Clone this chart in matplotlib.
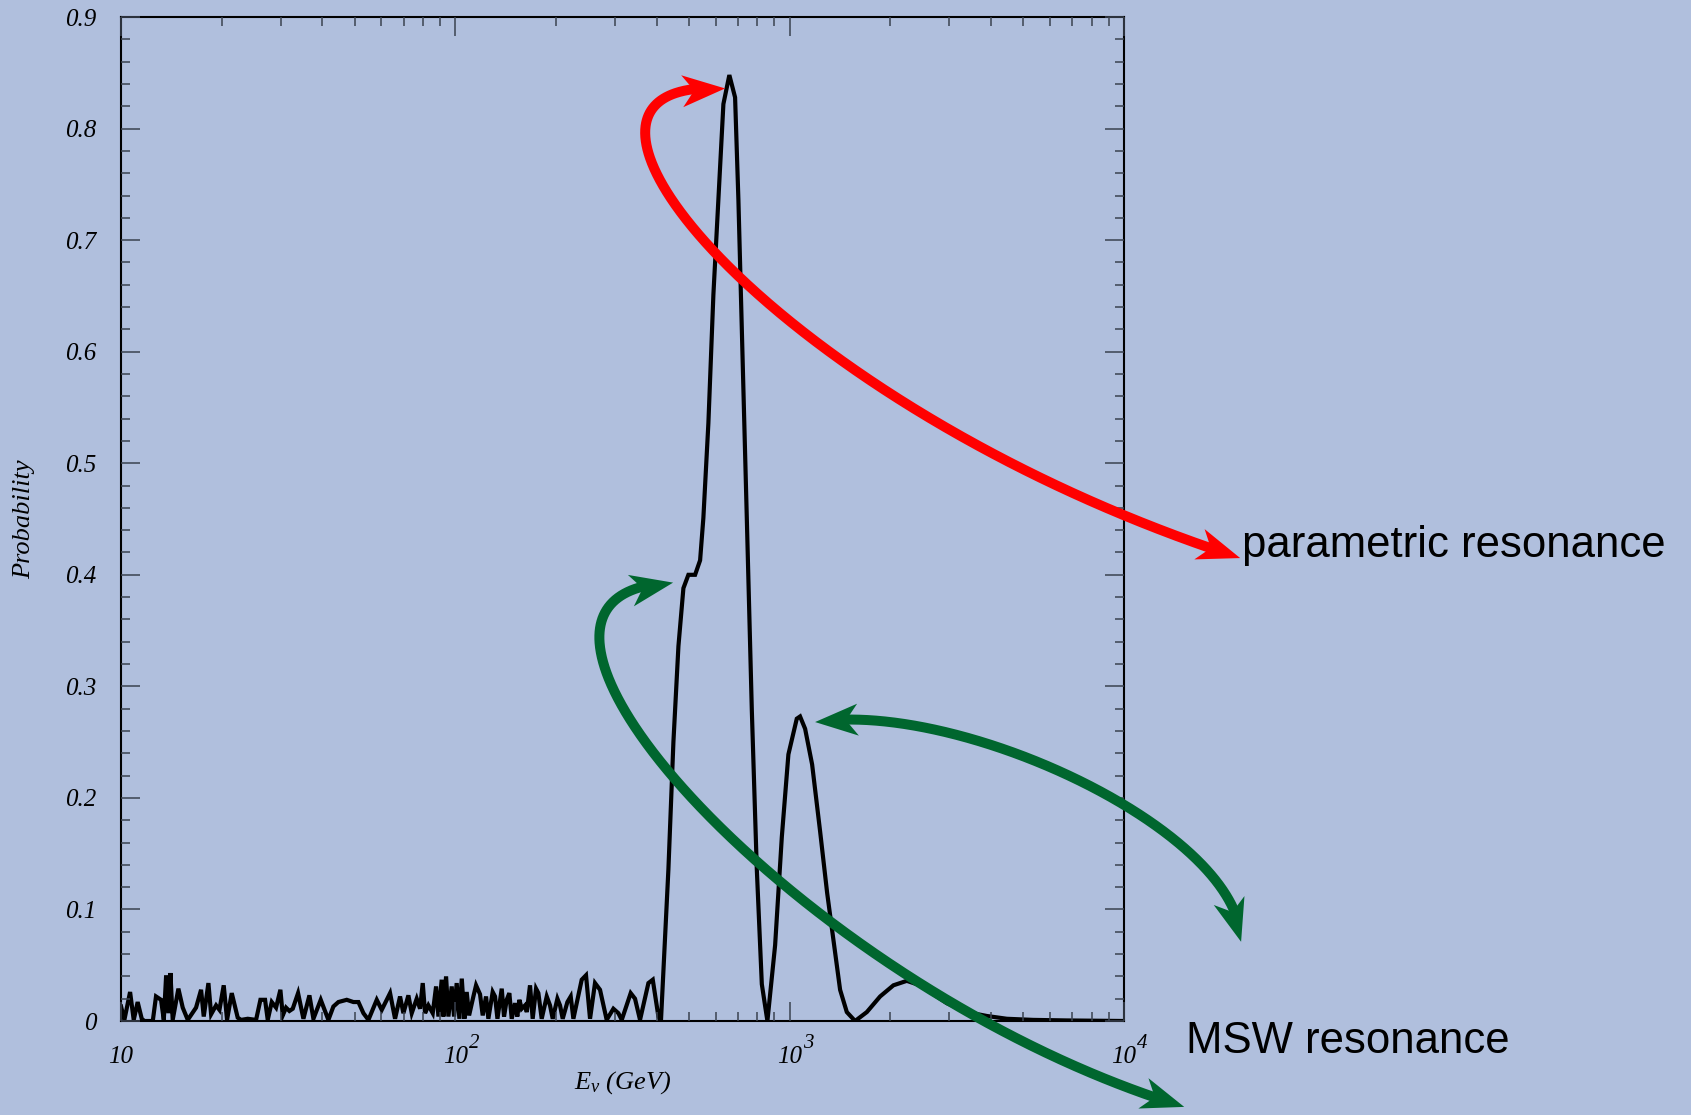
"""
Neutrino oscillation probability versus energy, with the parametric
and MSW resonances marked by curved arrows.
"""

import numpy as np
import matplotlib.pyplot as plt
from matplotlib.lines import Line2D
from matplotlib.patches import Polygon
from matplotlib.transforms import IdentityTransform
from matplotlib.ticker import MultipleLocator, NullFormatter

# Low energy part: fast oscillations (GeV, probability)
energy_low = [
    10.0, 10.23, 10.64, 10.91, 11.21, 11.53, 11.74, 12.44, 12.72, 13.17,
    13.42, 13.64, 13.86, 14.05, 14.27, 14.84, 15.29, 15.83, 16.76, 17.35,
    17.67, 18.25, 18.59, 19.24, 19.69, 20.28, 20.75, 21.43, 22.33, 22.85,
    23.93, 25.34, 26.11, 26.96, 27.46, 28.23, 29.08, 29.96, 30.45, 31.15,
    31.88, 32.62, 33.84, 35.11, 36.59, 37.61, 39.56, 41.70, 43.16, 44.67,
    47.32, 49.54, 51.28, 53.08, 54.94, 58.18, 60.22, 63.77, 66.00, 68.31,
    69.90, 72.35, 74.03, 76.62, 78.40, 79.86, 81.16, 83.04, 85.56, 87.55,
    88.98, 91.00, 92.07, 93.78, 95.30, 97.50, 99.08, 100.9, 102.8, 104.5,
    106.4, 108.1, 109.9, 113.2, 115.3, 118.5, 120.7, 123.5, 125.5, 129.3,
    131.4, 133.6, 137.6, 139.8, 142.4, 145.0, 147.4, 150.8, 153.2, 155.4,
    157.9, 161.6, 163.5, 167.2, 170.3, 174.3, 177.1, 181.2, 187.6, 191.9,
    195.5, 201.9, 205.6, 209.4, 216.3, 221.3, 225.4, 238.7, 245.9, 252.8,
    261.6, 270.8, 283.5, 296.9, 307.3, 314.5, 334.5, 344.6, 356.7, 377.9,
    389.4, 404.8, 412.0,
]
prob_low = [
    0.013, 0.001, 0.026, 0.001, 0.017, 0.002, 0.000, 0.000, 0.022, 0.019,
    0.001, 0.041, 0.007, 0.043, 0.001, 0.029, 0.012, 0.001, 0.012, 0.028,
    0.004, 0.034, 0.006, 0.014, 0.010, 0.032, 0.001, 0.025, 0.003, 0.001,
    0.002, 0.001, 0.019, 0.019, 0.001, 0.017, 0.012, 0.028, 0.005, 0.012,
    0.009, 0.011, 0.025, 0.002, 0.023, 0.002, 0.019, 0.001, 0.013, 0.017,
    0.019, 0.017, 0.017, 0.007, 0.001, 0.019, 0.010, 0.025, 0.002, 0.022,
    0.007, 0.023, 0.007, 0.020, 0.011, 0.034, 0.007, 0.014, 0.007, 0.031,
    0.004, 0.037, 0.004, 0.040, 0.004, 0.031, 0.004, 0.034, 0.002, 0.038,
    0.002, 0.026, 0.005, 0.022, 0.032, 0.024, 0.005, 0.022, 0.002, 0.026,
    0.022, 0.002, 0.029, 0.004, 0.019, 0.025, 0.002, 0.016, 0.004, 0.019,
    0.011, 0.014, 0.008, 0.032, 0.002, 0.029, 0.025, 0.002, 0.022, 0.014,
    0.002, 0.020, 0.014, 0.002, 0.017, 0.022, 0.002, 0.037, 0.041, 0.002,
    0.034, 0.028, 0.001, 0.011, 0.007, 0.001, 0.025, 0.020, 0.001, 0.034,
    0.037, 0.004, 0.000,
]

# Resonance region (GeV, probability)
energy_res = [
    433.7, 448.9, 464.7, 480.9, 497.7, 521.2, 539.5, 551.8, 571.2, 591.2,
    611.9, 633.4, 659.9, 686.5, 702.4, 719.0, 744.2, 770.3, 797.3, 825.3,
    857.7, 904.5, 947.2, 991.1, 1050, 1074, 1112, 1167, 1233, 1294,
    1351, 1415, 1482, 1569, 1701, 1864, 2043, 2240, 2455, 2951,
    3387, 3888, 4462, 5347, 6745, 10000,
]
prob_res = [
    0.136, 0.250, 0.336, 0.388, 0.400, 0.400, 0.413, 0.451, 0.536, 0.651,
    0.736, 0.822, 0.848, 0.828, 0.736, 0.622, 0.451, 0.279, 0.136, 0.033,
    0.000, 0.068, 0.165, 0.239, 0.271, 0.273, 0.262, 0.230, 0.170, 0.115,
    0.073, 0.028, 0.008, 0.000, 0.008, 0.022, 0.032, 0.036, 0.032, 0.016,
    0.008, 0.0045, 0.002, 0.001, 0.0005, 0.000,
]

x_ticks = [10, 100, 1000, 10000]
x_tick_labels = ['10', '10', '10', '10']
x_tick_powers = ['', '2', '3', '4']
y_ticks = [0, 0.1, 0.2, 0.3, 0.4, 0.5, 0.6, 0.7, 0.8, 0.9]
y_tick_labels = ['0', '0.1', '0.2', '0.3', '0.4', '0.5', '0.6', '0.7', '0.8', '0.9']

bg = '#B0BFDD'
tick_col = '#3a4250'
red = '#FF0000'
green = '#00662E'

plt.rcParams['font.family'] = 'Liberation Serif'
plt.rcParams['font.style'] = 'italic'
plt.rcParams['mathtext.fontset'] = 'custom'
plt.rcParams['mathtext.rm'] = 'Liberation Serif:italic'
plt.rcParams['mathtext.it'] = 'Liberation Serif:italic'

energy = np.array(energy_low + energy_res)
prob = np.array(prob_low + prob_res)

fig = plt.figure(figsize=(16.91, 11.15), dpi=100)
fig.patch.set_facecolor(bg)
ax = fig.add_axes([0.0716, 0.0843, 0.5931, 0.9004])
ax.set_facecolor(bg)
ax.set_axisbelow(False)

ax.plot(energy, prob, color='black', lw=3, solid_joinstyle='miter', zorder=2)

ax.set_xscale('log')
ax.set_xlim(10, 1e4)
ax.set_ylim(0, 0.9)
ax.set_xticks(x_ticks, x_tick_labels)
ax.xaxis.set_minor_formatter(NullFormatter())
ax.set_yticks(y_ticks, y_tick_labels)
ax.yaxis.set_minor_locator(MultipleLocator(0.02))

ax.tick_params(which='both', direction='in', top=True, right=True,
               color=tick_col, width=1.1, labelsize=18)
ax.tick_params(which='major', length=13.5)
ax.tick_params(which='minor', length=6.5)
ax.tick_params(axis='y', pad=18)
ax.tick_params(axis='x', pad=30)
for lab in ax.get_xticklabels():
    lab.set_verticalalignment('baseline')
for sp in ax.spines.values():
    sp.set_linewidth(1.5)
    sp.set_color('black')

# decade exponents, set beside the "10" of each tick label
for xt, pw in zip(x_ticks, x_tick_powers):
    if pw:
        ax.annotate(pw, xy=(xt, 0), xycoords=('data', 'axes fraction'),
                    xytext=(9.5, -19.5), textcoords='offset points',
                    fontsize=15, ha='left', va='baseline')

ax.set_xlabel(r'$E_{\nu}\ (GeV)$', fontsize=19)
ax.xaxis.label.set_verticalalignment('baseline')
ax.xaxis.set_label_coords(0.5, -0.0677)
ax.set_ylabel('Probability', fontsize=19)
ax.yaxis.set_label_coords(-0.0857, 0.5)


def head(tip, back, color, length=43, half_width=16, notch=12):
    # notched arrow head in pixels, pointing from back towards tip
    d = (tip - back) / np.hypot(*(tip - back))
    n = np.array([-d[1], d[0]])
    pts = [tip,
           tip - d * length + n * half_width,
           tip - d * (length - notch),
           tip - d * length - n * half_width]
    fig.add_artist(Polygon(pts, closed=True, color=color, lw=0,
                           transform=IdentityTransform(), zorder=5))


def curved_arrow(points, color, lw=7.2, length=43):
    # cubic Bezier between two heads, worked out in display pixels
    p = ax.transData.transform(points)
    t = np.linspace(0, 1, 600)[:, None]
    curve = ((1 - t) ** 3 * p[0] + 3 * (1 - t) ** 2 * t * p[1]
             + 3 * (1 - t) * t ** 2 * p[2] + t ** 3 * p[3])
    from_start = np.hypot(*(curve - p[0]).T)
    from_end = np.hypot(*(curve - p[3]).T)
    keep = (from_start > 27) & (from_end > 27)
    fig.add_artist(Line2D(curve[keep, 0], curve[keep, 1], color=color, lw=lw,
                          solid_capstyle='butt', transform=IdentityTransform(),
                          zorder=5))
    # heads follow the chord over their own length, so the shaft sits centred
    back_a = curve[np.argmax(from_start > length)]
    back_b = curve[len(curve) - 1 - np.argmax(from_end[::-1] > length)]
    head(p[0], back_a, color, length)
    head(p[3], back_b, color, length)


curved_arrow([(22260, 0.415), (904, 0.550), (136, 0.848), (641, 0.836)], red)
curved_arrow([(15140, -0.077), (1074, 0.028), (90.0, 0.386), (448, 0.393)], green)
curved_arrow([(1191, 0.268), (3234, 0.288), (22400, 0.170), (22400, 0.071)], green)

fig.text(0.7344, 0.5004, 'parametric resonance', family='Liberation Sans',
         style='normal', fontsize=31.5, va='baseline')
fig.text(0.7014, 0.0556, 'MSW resonance', family='Liberation Sans',
         style='normal', fontsize=31.5, va='baseline')

fig.savefig('out.png', dpi=100, facecolor=bg)
